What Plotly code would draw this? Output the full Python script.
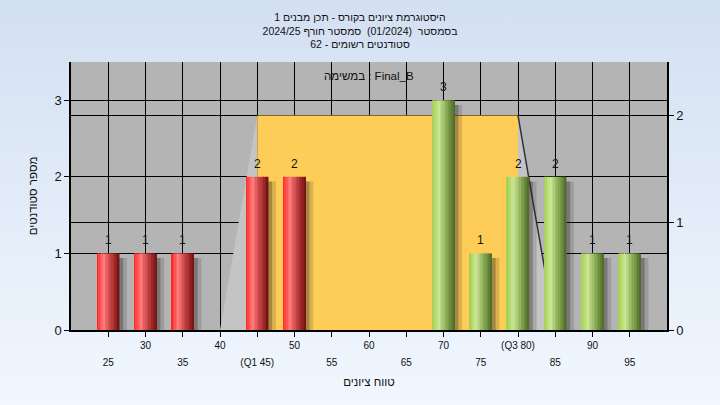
import base64
import plotly.graph_objects as go

# ---------------- data ----------------
grades = [25, 30, 35, 40, 45, 50, 55, 60, 65, 70, 75, 80, 85, 90, 95]
counts = [1, 1, 1, 0, 2, 2, 0, 0, 0, 3, 1, 2, 2, 1, 1]
pass_mark = 55

q1, q3 = 45, 80
whisker_low, whisker_high = 40, 85
box_top = 2.8          # height of the quartile box, read in left-axis units

row1_ticks = [30, 40, 50, 60, 70, 80, 90]
row1_text = ["30", "40", "50", "60", "70", "(Q3 80)", "90"]
row2_ticks = [25, 35, 45, 55, 65, 75, 85, 95]
row2_text = ["25", "35", "(Q1 45)", "55", "65", "75", "85", "95"]

left_ticks = [0, 1, 2, 3]
right_ticks = [0, 1, 2]

title_lines = [
    "היסטוגרמת ציונים בקורס - תכן מבנים 1",
    "בסמסטר  (01/2024)  סמסטר חורף 2024/25",
    "סטודנטים רשומים - 62",
]
x_title = "טווח ציונים"
y_title = "מספר סטודנטים"
task_label = "במשימה : Final_B"

# ---------------- style ----------------
FONT = "Liberation Sans, Arial, DejaVu Sans, sans-serif"
BAR_W = 3.0
N_STRIPS = 14

red_stops = [(0, (255, 30, 30)), (0.12, (255, 70, 70)), (0.32, (255, 122, 122)),
             (0.6, (200, 70, 70)), (0.85, (150, 36, 36)), (1, (110, 18, 18))]
green_stops = [(0, (160, 206, 80)), (0.12, (178, 216, 104)), (0.32, (202, 228, 150)),
               (0.6, (146, 180, 92)), (0.85, (104, 136, 58)), (1, (76, 102, 38))]


def interp(stops, t):
    for (a, ca), (b, cb) in zip(stops[:-1], stops[1:]):
        if a <= t <= b:
            f = (t - a) / (b - a) if b > a else 0
            c = [round(ca[i] + (cb[i] - ca[i]) * f) for i in range(3)]
            return "rgb(%d,%d,%d)" % tuple(c)
    return "rgb(%d,%d,%d)" % stops[-1][1]


fail_x = [g for g, c in zip(grades, counts) if g < pass_mark]
fail_y = [c for g, c in zip(grades, counts) if g < pass_mark]
pass_x = [g for g, c in zip(grades, counts) if g >= pass_mark]
pass_y = [c for g, c in zip(grades, counts) if g >= pass_mark]

fig = go.Figure()

# shadows
for dx, extra, alpha in [(0.8, 0.2, 0.16), (0.5, 0.0, 0.28)]:
    fig.add_trace(go.Bar(
        x=grades, y=[c - 0.06 if c > 0 else 0 for c in counts],
        width=BAR_W + extra, offset=-BAR_W / 2 + dx,
        marker=dict(color="rgba(30,30,30,%s)" % alpha, line=dict(width=0)),
        hoverinfo="skip", showlegend=False))

# cylinder-shaded bars built from vertical strips
for xs, ys, stops in [(fail_x, fail_y, red_stops), (pass_x, pass_y, green_stops)]:
    sw = BAR_W / N_STRIPS
    for i in range(N_STRIPS):
        t = (i + 0.5) / N_STRIPS
        fig.add_trace(go.Bar(
            x=xs, y=ys, width=sw * 1.05, offset=-BAR_W / 2 + i * sw,
            marker=dict(color=interp(stops, t), line=dict(width=0)),
            hoverinfo="skip", showlegend=False))

# invisible anchor trace so the secondary axes (second label row, right scale) are drawn
fig.add_trace(go.Scatter(
    x=row2_ticks, y=[0] * len(row2_ticks), xaxis="x2", yaxis="y2",
    mode="markers", marker=dict(opacity=0), hoverinfo="skip", showlegend=False))

# value labels above bars
annotations = [dict(text=str(c), x=g, y=c, xref="x", yref="y",
                    xanchor="center", yanchor="middle", yshift=13, showarrow=False,
                    font=dict(size=12, color="#111111", family=FONT))
               for g, c in zip(grades, counts) if c > 0]
annotations.append(dict(text=task_label, xref="paper", yref="paper",
                        x=0.5, y=(330 - 76) / 268, xanchor="center", yanchor="middle",
                        showarrow=False, font=dict(size=11.5, color="#111111")))

# background gradient
svg = ('<svg xmlns="http://www.w3.org/2000/svg" width="720" height="405">'
       '<defs><linearGradient id="g" x1="0" y1="0" x2="0" y2="1">'
       '<stop offset="0" stop-color="#d3e0f2"/><stop offset="1" stop-color="#f1f7fe"/>'
       '</linearGradient></defs><rect width="720" height="405" fill="url(#g)"/></svg>')
src = "data:image/svg+xml;base64," + base64.b64encode(svg.encode()).decode()

L, R, T, B = 71, 53, 62, 75
W, H = 720, 405
pw, ph = W - L - R, H - T - B

shapes = [
    dict(type="rect", xref="paper", yref="paper", x0=0, x1=1, y0=0, y1=1,
         fillcolor="#b4b4b4", line=dict(width=0), layer="below"),
    dict(type="path", xref="x", yref="y", layer="between",
         path=f"M {whisker_low},0 L {q1},{box_top} L {q1},0 Z",
         fillcolor="#c4c4c4", line=dict(width=0)),
    dict(type="path", xref="x", yref="y", layer="between",
         path=f"M {q3},0 L {q3},{box_top} L {whisker_high},0 Z",
         fillcolor="#c4c4c4", line=dict(width=0)),
    dict(type="rect", xref="x", yref="y", layer="between",
         x0=q1, x1=q3, y0=0, y1=box_top,
         fillcolor="#fecd57", line=dict(width=0)),
    dict(type="line", xref="x", yref="y", layer="between",
         x0=q3, y0=box_top, x1=whisker_high, y1=0,
         line=dict(color="#333333", width=1.5)),
]

axis_common = dict(showline=True, linecolor="black", linewidth=1.5,
                   ticks="outside", ticklen=5, tickcolor="black", tickwidth=1.3,
                   gridcolor="black", gridwidth=1.2, showgrid=True, zeroline=False,
                   automargin=False)

fig.update_layout(
    width=W, height=H,
    margin=dict(l=L, r=R, t=T, b=B, autoexpand=False),
    paper_bgcolor="#e2ebf8",
    plot_bgcolor="rgba(0,0,0,0)",
    barmode="overlay",
    font=dict(family=FONT, color="#111111"),
    images=[dict(source=src, xref="paper", yref="paper",
                 x=-L / pw, y=1 + T / ph, sizex=W / pw, sizey=H / ph,
                 sizing="stretch", xanchor="left", yanchor="top", layer="below")],
    shapes=shapes,
    annotations=annotations,
    title=dict(text="<br>".join(title_lines), x=0.5, xanchor="center",
               y=1 - 21 / H, yanchor="top", yref="container", automargin=False,
               font=dict(size=10.5, color="#111111", family=FONT)),
    xaxis=dict(range=[20, 100], tickvals=row1_ticks, ticktext=row1_text,
               tickfont=dict(size=10), **axis_common),
    xaxis2=dict(range=[20, 100], overlaying="x", anchor="y", side="bottom",
                tickvals=row2_ticks, ticktext=row2_text, tickfont=dict(size=10),
                ticklabelstandoff=17,
                title=dict(text=x_title, font=dict(size=11.5), standoff=11),
                **axis_common),
    yaxis=dict(range=[0, 3.5], tickvals=left_ticks, tickfont=dict(size=13),
               title=dict(text=y_title, font=dict(size=11.5), standoff=14),
               **axis_common),
    yaxis2=dict(range=[0, 2.5], overlaying="y", anchor="x", side="right",
                tickvals=right_ticks, tickfont=dict(size=13), **axis_common),
)

fig.write_html("out.html", config={"displayModeBar": False},
               post_script="document.body.style.margin='0';")
